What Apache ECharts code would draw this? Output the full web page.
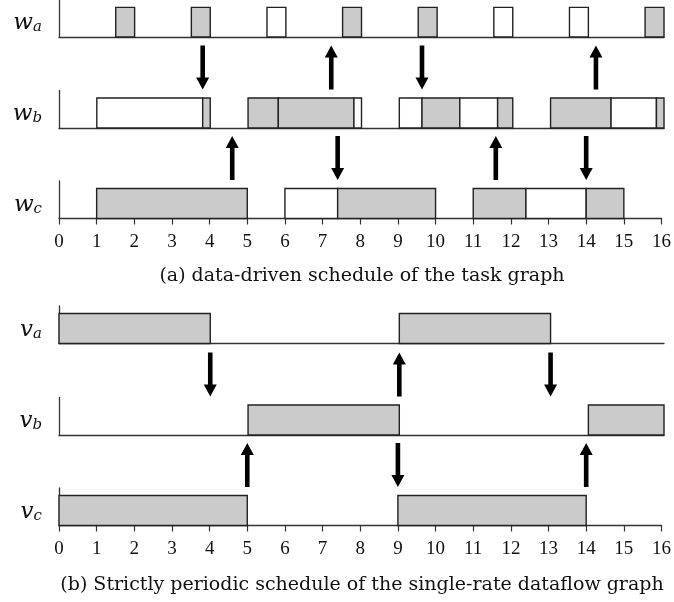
<!DOCTYPE html>
<html>
<head>
<meta charset="utf-8">
<script src="https://cdn.jsdelivr.net/npm/echarts@6/dist/echarts.min.js"></script>
<style>
html,body{margin:0;padding:0;background:#fff;}
#chart{width:674px;height:602px;}
</style>
</head>
<body>
<div id="chart"></div>
<script>
// ---- data ----
// time axis
const timeMin = 0;
const timeMax = 16;
const tickLabels = ['0','1','2','3','4','5','6','7','8','9','10','11','12','13','14','15','16'];

// row names: [symbol, subscript]
const rowNames = [['w','a'],['w','b'],['w','c'],['v','a'],['v','b'],['v','c']];

// firings: [start, end, busy(1 = grey, 0 = white)]
const wA = [[1.5,2,1],[3.5,4,1],[5.5,6,0],[7.5,8,1],[9.5,10,1],[11.5,12,0],[13.5,14,0],[15.5,16,1]];
const wB = [[1,3.8,0],[3.8,4,1],[5,5.8,1],[5.8,7.8,1],[7.8,8,0],[9,9.6,0],[9.6,10.6,1],[10.6,11.6,0],[11.6,12,1],[13,14.6,1],[14.6,15.8,0],[15.8,16,1]];
const wC = [[1,5,1],[6,7.4,0],[7.4,10,1],[11,12.4,1],[12.4,14,0],[14,15,1]];
const vA = [[0,4,1],[9,13,1]];
const vB = [[5,9,1],[14,16,1]];
const vC = [[0,5,1],[9,14,1]];

// dependency arrows: [time, direction(1 = up, -1 = down)]
const arrowsWab = [[3.8,-1],[7.2,1],[9.6,-1],[14.2,1]];
const arrowsWbc = [[4.6,1],[7.4,-1],[11.6,1],[14,-1]];
const arrowsVab = [[4,-1],[9,1],[13,-1]];
const arrowsVbc = [[5,1],[9,-1],[14,1]];

const captionA = '(a) data-driven schedule of the task graph';
const captionB = '(b) Strictly periodic schedule of the single-rate dataflow graph';

// ---- layout / style ----
const rowTops = [-0.5, 90.5, 181, 306, 397.5, 488];
const rowHeight = 37.5;
const yMax = 1.25;
const bottomRows = [2, 5];
const serif = '"Liberation Serif", "DejaVu Serif", serif';
const capFont = '"DejaVu Serif", serif';
const GREY = '#cbcbcb';
const LINE = '#222';

const rowsData = [wA, wB, wC, vA, vB, vC];
const arrowSets = [[1, arrowsWab], [2, arrowsWbc], [4, arrowsVab], [5, arrowsVbc]];

const grids = [], xAxes = [], yAxes = [], series = [];
rowTops.forEach((top, i) => {
  const isBottom = bottomRows.includes(i);
  grids.push({left: 59, right: 10, top: top, height: rowHeight, containLabel: false});
  xAxes.push({
    type: 'value', gridIndex: i, min: timeMin, max: timeMax, interval: 1,
    axisLine: {show: true, onZero: false, lineStyle: {color: '#333', width: 1.3}},
    axisTick: {show: isBottom, length: 6, lineStyle: {color: '#333', width: 1.2}},
    axisLabel: {show: isBottom, margin: 14, color: '#111', fontFamily: serif, fontSize: 19,
      formatter: (v) => tickLabels[Math.round(v - timeMin)] },
    splitLine: {show: false}
  });
  yAxes.push({
    type: 'value', gridIndex: i, min: 0, max: yMax,
    axisLine: {show: true, lineStyle: {color: '#333', width: 1.3}},
    axisTick: {show: false}, axisLabel: {show: false}, splitLine: {show: false},
    name: '{m|' + rowNames[i][0] + '}{s|' + rowNames[i][1] + '}',
    nameLocation: 'middle', nameRotate: 0, nameGap: 17,
    nameTextStyle: {
      padding: [3, 0, 0, 0],
      rich: {
        m: {fontFamily: '"DejaVu Serif", serif', fontStyle: 'italic', fontSize: 23, color: '#111', lineHeight: 30, verticalAlign: 'bottom'},
        s: {fontFamily: '"DejaVu Serif", serif', fontStyle: 'italic', fontSize: 15, color: '#111', lineHeight: 18, verticalAlign: 'bottom'}
      }
    }
  });
  series.push({
    type: 'custom', xAxisIndex: i, yAxisIndex: i, clip: false, z: 3,
    data: rowsData[i],
    renderItem: function (params, api) {
      const p0 = api.coord([api.value(0), 0]);
      const p1 = api.coord([api.value(1), 1]);
      return {
        type: 'rect',
        shape: {x: p0[0], y: p1[1], width: p1[0] - p0[0], height: p0[1] - p1[1]},
        style: {fill: api.value(2) ? GREY : '#fff', stroke: LINE, lineWidth: 1.4}
      };
    }
  });
});

arrowSets.forEach(([row, arr]) => {
  series.push({
    type: 'custom', xAxisIndex: row, yAxisIndex: row, clip: false, z: 4,
    data: arr,
    renderItem: function (params, api) {
      const x = api.coord([api.value(0), 0])[0];
      const gy = params.coordSys.y;
      const yTop = gy - 45, yBot = gy - 1;
      const sw = 2.3, hw = 6.5, hl = 12;
      let pts;
      if (api.value(1) < 0) {
        pts = [[x - sw, yTop], [x + sw, yTop], [x + sw, yBot - hl], [x + hw, yBot - hl], [x, yBot], [x - hw, yBot - hl], [x - sw, yBot - hl]];
      } else {
        pts = [[x - sw, yBot], [x + sw, yBot], [x + sw, yTop + hl], [x + hw, yTop + hl], [x, yTop], [x - hw, yTop + hl], [x - sw, yTop + hl]];
      }
      return {type: 'polygon', shape: {points: pts}, style: {fill: '#000'}};
    }
  });
});

const chart = echarts.init(document.getElementById('chart'), null, {renderer: 'canvas'});
chart.setOption({
  animation: false,
  backgroundColor: '#fff',
  grid: grids,
  xAxis: xAxes,
  yAxis: yAxes,
  series: series,
  graphic: [
    {type: 'text', x: 362, y: 276, style: {text: captionA, textAlign: 'center', textVerticalAlign: 'middle', fontFamily: capFont, fontSize: 19, fill: '#111'}},
    {type: 'text', x: 362, y: 585, style: {text: captionB, textAlign: 'center', textVerticalAlign: 'middle', fontFamily: capFont, fontSize: 19, fill: '#111'}}
  ]
});
</script>
</body>
</html>
